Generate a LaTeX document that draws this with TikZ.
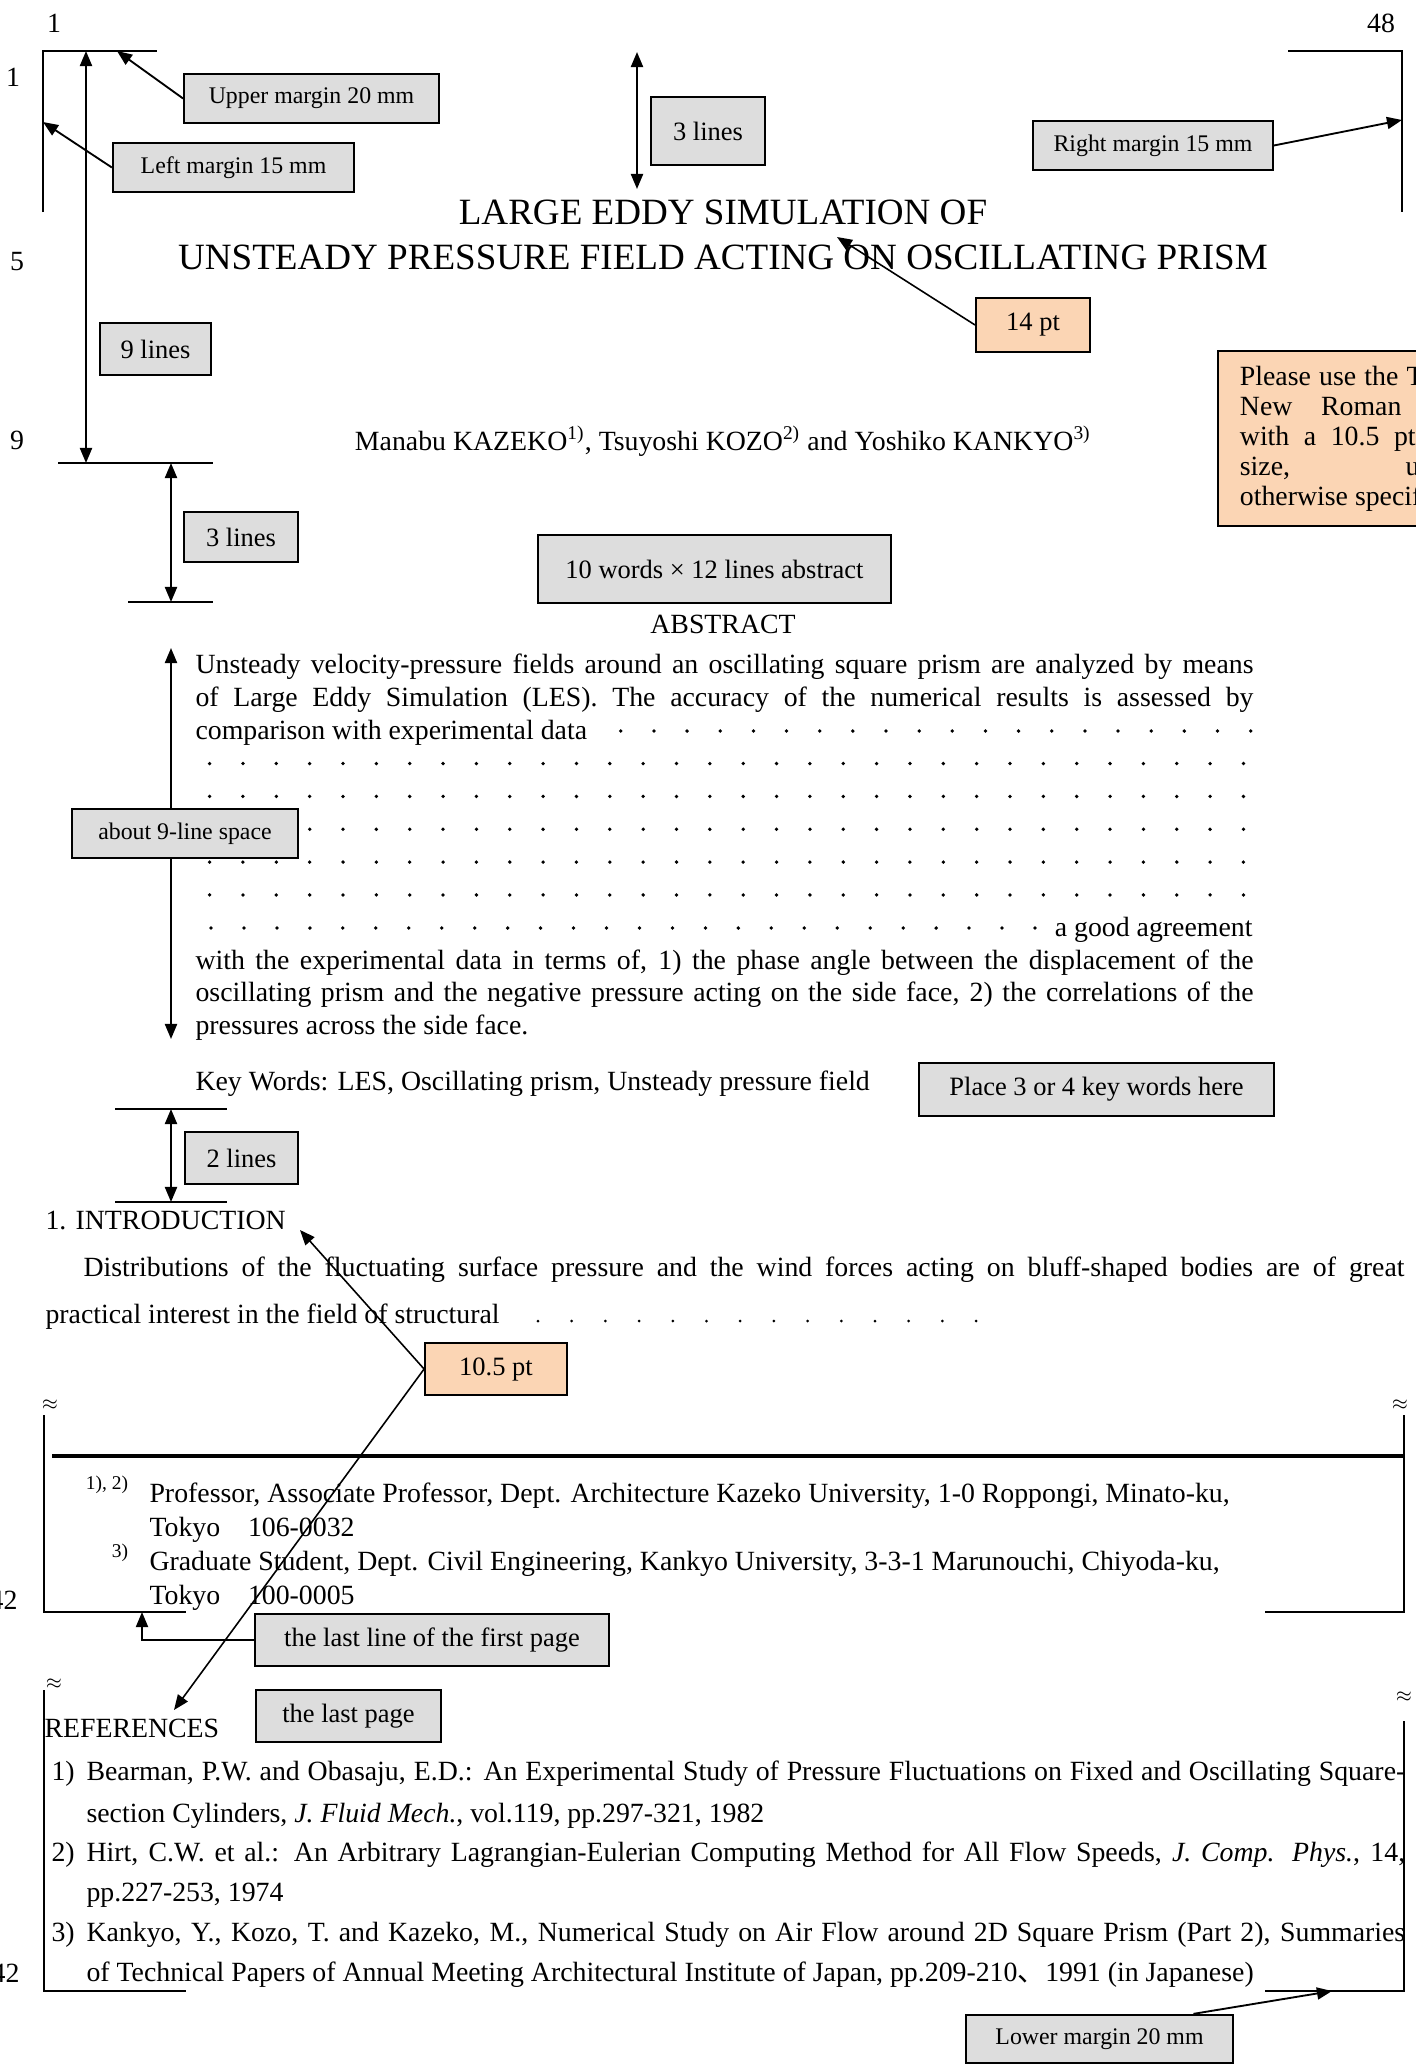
\documentclass[tikz,border=0pt]{standalone}
\usepackage{fontspec}
\setmainfont{Liberation Serif}
\newfontfamily\cjk{Noto Sans CJK JP}
\definecolor{BoxGray}{RGB}{221,221,221}
\definecolor{BoxPeach}{RGB}{251,213,180}
\usetikzlibrary{arrows.meta}
\usetikzlibrary{positioning}
\newcommand{\bodyfont}{\fontsize{10.5pt}{12pt}\selectfont}
\newcommand{\boxfont}{\fontsize{10pt}{12pt}\selectfont}
\newcommand{\marginfont}{\fontsize{9pt}{11pt}\selectfont}
\newcommand{\titlefont}{\fontsize{14pt}{17pt}\selectfont}
\newcommand{\spread}[2]{\makebox[#1][s]{#2}}
\tikzstyle{txt} = [inner sep=0pt, font=\bodyfont]
\tikzstyle{edge} = [line width=1pt]
\tikzstyle{pointer} = [line width=0.7pt, -{Triangle[length=2mm,width=1.6mm]}]
\tikzstyle{dimarrow} = [line width=0.8pt, {Triangle[length=2mm,width=1.6mm]}-{Triangle[length=2mm,width=1.6mm]}]
\tikzstyle{note} = [draw, line width=0.8pt, fill=BoxGray, inner sep=0pt, font=\boxfont]
\tikzstyle{hint} = [note, fill=BoxPeach]

\begin{document}
\begin{tikzpicture}[x=0.1327mm, y=-0.1327mm]
    \useasboundingbox (0,0) rectangle (1415,2067);

    % page and line numbers
    \node[txt, anchor=base] (pageL) at (54,32) {1};
    \node[txt, anchor=base] (pageR) at (1381,32) {48};
    \node[txt, anchor=base] (lineA) at (13,86) {1};
    \node[txt, anchor=base] (lineB) at (17,270) {5};
    \node[txt, anchor=base] (lineC) at (17,449) {9};
    \node[txt, anchor=base east] (lineD) at (18,1609) {42};
    \node[txt, anchor=base east] (lineE) at (20,1982) {42};

    % margins of the first page
    \draw[edge] (43,212) -- (43,51) -- (157,51);
    \draw[edge] (1288,51) -- (1402,51) -- (1402,212);
    \coordinate (upTip) at (117,51);
    \coordinate (leftTip) at (43,122);
    \coordinate (rightTip) at (1402,120);
    \node[note, font=\marginfont, minimum width=33.8mm, minimum height=6.5mm] (upper) at (311.5,98.5) {Upper margin 20 mm};
    \node[note, font=\marginfont, minimum width=32mm, minimum height=6.5mm] (left) at (233.5,167.5) {Left margin 15 mm};
    \node[note, font=\marginfont, minimum width=31.8mm, minimum height=6.5mm] (right) at (1153,145.5) {Right margin 15 mm};
    \draw[pointer] (upper.west) -- (upTip);
    \draw[pointer] (left.west) -- (leftTip);
    \draw[pointer] (right.east) -- (rightTip);

    % title block
    \coordinate (nineTop) at (86,51);
    \coordinate (nineBot) at (86,463);
    \coordinate (gapTop) at (637,52);
    \coordinate (gapBot) at (637,189);
    \draw[dimarrow] (nineTop) -- (nineBot);
    \draw[dimarrow] (gapTop) -- (gapBot);
    \node[note, minimum width=15.1mm, minimum height=9mm] (gap) at (708,131) {3 lines};
    \node[note, minimum width=14.7mm, minimum height=6.9mm] (nine) at (155.5,349) {9 lines};

    \node[inner sep=0pt, font=\titlefont, anchor=base] (titleA) at (723,224) {LARGE EDDY SIMULATION OF};
    \node[inner sep=0pt, font=\titlefont, anchor=base] (titleB) at (723,269) {UNSTEADY PRESSURE FIELD ACTING ON OSCILLATING PRISM};
    \coordinate (titleTip) at (837,237);
    \node[hint, minimum width=15.1mm, minimum height=7.2mm] (pt14) at (1033,325) {14 pt};
    \draw[pointer, line width=0.6pt] (pt14.west) -- (titleTip);

    \node[hint, anchor=west, font=\fontsize{10.5pt}{11.3pt}\selectfont, inner xsep=2.9mm, align=left, minimum height=23.2mm] (times) at (1217,438.5)
        {\spread{31.2mm}{Please use the Times}\\\spread{31.2mm}{New Roman font}\\\spread{31.2mm}{with a 10.5 pt font}\\\spread{31.2mm}{size, unless}\\otherwise specified.};

    \node[txt, anchor=base] (authors) at (723,450) {Manabu KAZEKO\textsuperscript{1)}, Tsuyoshi KOZO\textsuperscript{2)} and Yoshiko KANKYO\textsuperscript{3)}};

    % space above the abstract
    \draw[edge] (58,463) -- (213,463);
    \draw[edge] (128,602) -- (213,602);
    \coordinate (absTop) at (171,463);
    \coordinate (absBot) at (171,602);
    \draw[dimarrow] (absTop) -- (absBot);
    \node[note, minimum width=15.1mm, minimum height=6.6mm] (three) at (241,537) {3 lines};
    \node[note, minimum width=46.8mm, minimum height=9mm] (words) at (714.5,569) {10 words × 12 lines abstract};
    \node[txt, anchor=base] (abstract) at (723,633) {ABSTRACT};

    % abstract
    \coordinate (bodyTop) at (171,648);
    \coordinate (bodyBot) at (171,1039);
    \draw[dimarrow] (bodyTop) -- (bodyBot);
    \node[txt, anchor=base west] (absA) at (195,673) {\spread{140.4mm}{Unsteady velocity-pressure fields around an oscillating square prism are analyzed by means}};
    \node[txt, anchor=base west] (absB) at (195,706) {\spread{140.4mm}{of Large Eddy Simulation (LES). The accuracy of the numerical results is assessed by}};
    \node[txt, anchor=base west] (absC) at (195,739) {comparison with experimental data};
    \foreach \i in {0,...,19}
        \fill (620.8+\i*33.15,731) circle[radius=0.25mm];
    \foreach \r in {3,...,7}
        \foreach \i in {0,...,31}
            \fill (209.6+\i*33.35,665+32.85*\r) circle[radius=0.25mm];
    \foreach \i in {0,...,25}
        \fill (211+\i*32.96,928) circle[radius=0.25mm];
    \node[txt, anchor=base east] (absD) at (1253,936) {a good agreement};
    \node[txt, anchor=base west] (absE) at (195,969) {\spread{140.4mm}{with the experimental data in terms of, 1) the phase angle between the displacement of the}};
    \node[txt, anchor=base west] (absF) at (195,1001) {\spread{140.4mm}{oscillating prism and the negative pressure acting on the side face, 2) the correlations of the}};
    \node[txt, anchor=base west] (absG) at (195,1034) {pressures across the side face.};
    \node[note, font=\marginfont, minimum width=30mm, minimum height=6.5mm] (space) at (185,833.5) {about 9-line space};

    \node[txt, anchor=base west] (keys) at (195,1090) {Key Words: LES, Oscillating prism, Unsteady pressure field};
    \node[note, minimum width=47.1mm, minimum height=7mm] (place) at (1096.5,1089.5) {Place 3 or 4 key words here};

    % introduction
    \draw[edge] (115,1109) -- (227,1109);
    \draw[edge] (115,1202) -- (227,1202);
    \coordinate (twoTop) at (171,1109);
    \coordinate (twoBot) at (171,1202);
    \draw[dimarrow] (twoTop) -- (twoBot);
    \node[note, minimum width=15mm, minimum height=6.9mm] (two) at (241.5,1158) {2 lines};

    \node[txt, anchor=base west] (intro) at (45,1229) {1. INTRODUCTION};
    \node[txt, anchor=base west] (introA) at (83,1276) {\spread{175.3mm}{Distributions of the fluctuating surface pressure and the wind forces acting on bluff-shaped bodies are of great}};
    \node[txt, anchor=base west] (introB) at (45,1323) {practical interest in the field of structural};
    \foreach \i in {0,...,13}
        \fill (538+\i*33.7,1321) circle[radius=0.2mm];

    % end of the first page
    \node[font=\scriptsize, inner sep=0pt] (waveA) at (50,1405) {$\approx$};
    \node[font=\scriptsize, inner sep=0pt] (waveB) at (1400,1405) {$\approx$};
    \draw[edge] (44,1415) -- (44,1612) -- (186,1612);
    \draw[edge] (1265,1612) -- (1404,1612) -- (1404,1415);
    \draw[line width=1.8pt] (52,1456) -- (1404,1456);
    \node[inner sep=0pt, font=\bodyfont, anchor=base east] (noteAB) at (130,1500) {\textsuperscript{1), 2)}};
    \node[txt, anchor=base west] (footA) at (149,1502) {Professor, Associate Professor, Dept. Architecture Kazeko University, 1-0 Roppongi, Minato-ku,};
    \node[txt, anchor=base west] (footB) at (149,1536) {Tokyo\quad 106-0032};
    \node[inner sep=0pt, font=\bodyfont, anchor=base east] (noteC) at (130,1568) {\textsuperscript{3)}};
    \node[txt, anchor=base west] (footC) at (149,1570) {Graduate Student, Dept. Civil Engineering, Kankyo University, 3-3-1 Marunouchi, Chiyoda-ku,};
    \node[txt, anchor=base west] (footD) at (149,1604) {Tokyo\quad 100-0005};

    \coordinate (lastTip) at (142,1612);
    \node[note, minimum width=47mm, minimum height=6.9mm] (lastline) at (432,1640) {the last line of the first page};
    \draw[pointer] (lastline.west) -| (lastTip);

    % last page
    \node[font=\scriptsize, inner sep=0pt] (waveC) at (54,1684) {$\approx$};
    \node[font=\scriptsize, inner sep=0pt] (waveD) at (1404,1697) {$\approx$};
    \draw[edge] (44,1690) -- (44,1991) -- (186,1991);
    \draw[edge] (1265,1991) -- (1404,1991) -- (1404,1721);
    \node[txt, anchor=base west] (refs) at (44,1737) {REFERENCES};
    \node[note, minimum width=24.5mm, minimum height=6.9mm] (lastpage) at (348.5,1716) {the last page};

    \node[txt, anchor=base west] (refA) at (51,1780) {1)};
    \node[txt, anchor=base west] (refA1) at (86,1780) {\spread{175mm}{Bearman, P.W. and Obasaju, E.D.: An Experimental Study of Pressure Fluctuations on Fixed and Oscillating Square-}};
    \node[txt, anchor=base west] (refA2) at (86,1822) {section Cylinders, \textit{J. Fluid Mech.}, vol.119, pp.297-321, 1982};
    \node[txt, anchor=base west] (refB) at (51,1861) {2)};
    \node[txt, anchor=base west] (refB1) at (86,1861) {\spread{175mm}{Hirt, C.W. et al.: An Arbitrary Lagrangian-Eulerian Computing Method for All Flow Speeds, \textit{J. Comp. Phys.}, 14,}};
    \node[txt, anchor=base west] (refB2) at (86,1901) {pp.227-253, 1974};
    \node[txt, anchor=base west] (refC) at (51,1941) {3)};
    \node[txt, anchor=base west] (refC1) at (86,1941) {\spread{175mm}{Kankyo, Y., Kozo, T. and Kazeko, M., Numerical Study on Air Flow around 2D Square Prism (Part 2), Summaries}};
    \node[txt, anchor=base west] (refC2) at (86,1981) {of Technical Papers of Annual Meeting Architectural Institute of Japan, pp.209-210{\cjk 、}1991 (in Japanese)};

    \coordinate (lowTip) at (1332,1991);
    \node[note, font=\marginfont, minimum width=35.4mm, minimum height=6.4mm] (lower) at (1099.5,2039) {Lower margin 20 mm};
    \draw[pointer] (lower.15) -- (lowTip);

    % font size pointers
    \coordinate (introTip) at (300,1230);
    \coordinate (refsTip) at (174,1710);
    \node[hint, minimum width=18.8mm, minimum height=6.9mm] (pt105) at (496,1369) {10.5 pt};
    \draw[pointer, line width=0.6pt] (pt105.west) -- (introTip);
    \draw[pointer, line width=0.6pt] (pt105.west) -- (refsTip);
\end{tikzpicture}
\end{document}
